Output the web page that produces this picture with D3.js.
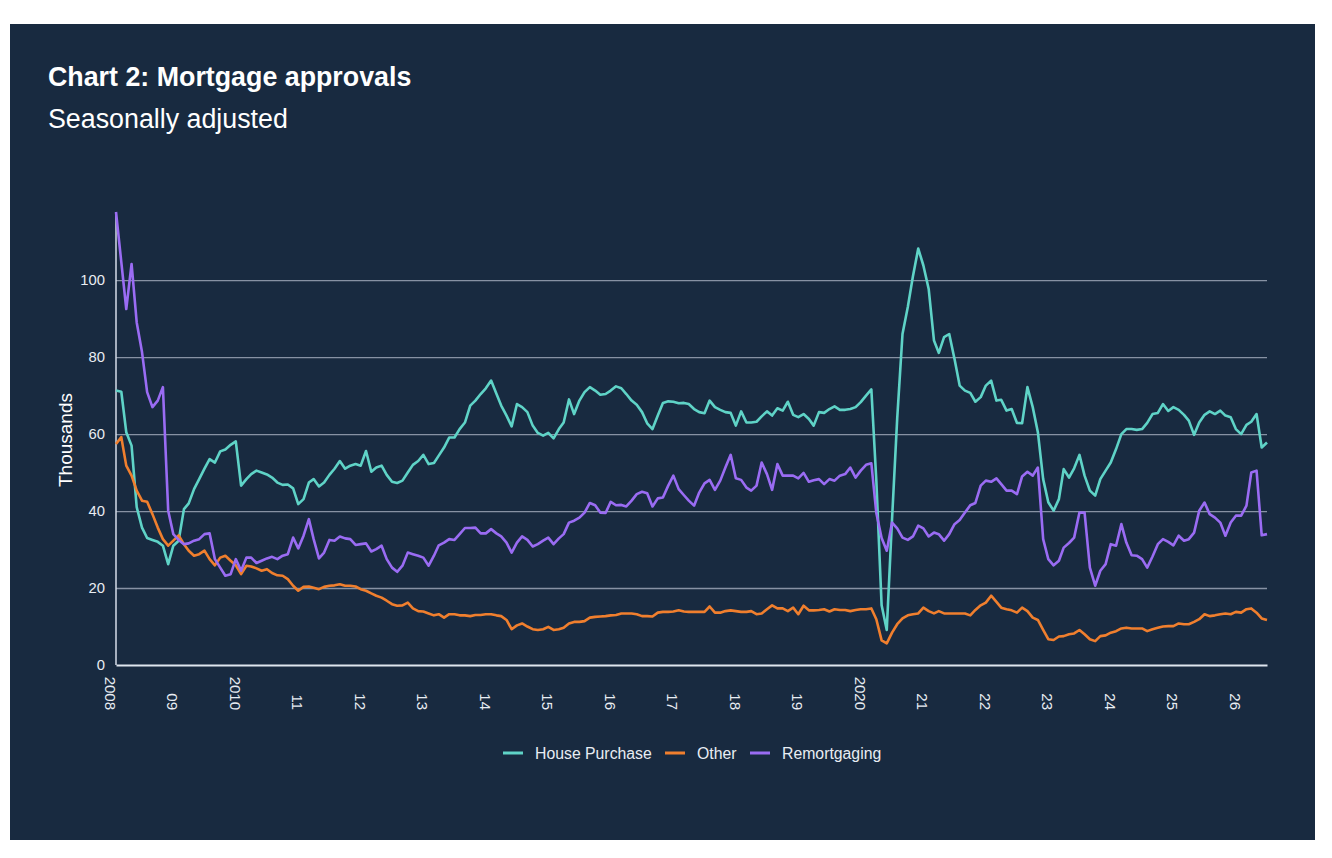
<!DOCTYPE html>
<html>
<head>
<meta charset="utf-8">
<script src="https://cdn.jsdelivr.net/npm/d3@7"></script>
<style>
  body { margin: 0; background: #fff; }
  svg { display: block; font-family: "Liberation Sans", Arial, sans-serif; }
</style>
</head>
<body>
<div id="chart"></div>
<script>
// monthly, Jan 2008 .. Jun 2026 (thousands)
const housePurchase = [
  71.3, 71, 60.5, 57, 41, 35.7, 33, 32.5, 32, 31, 26.2, 31,
  32.3, 40.5, 42, 45.7, 48.3, 51, 53.5, 52.6, 55.5, 56, 57.2, 58.1,
  46.6, 48.3, 49.6, 50.5, 50, 49.5, 48.7, 47.4, 46.8, 46.9, 45.9, 41.8,
  43.1, 47.4, 48.3, 46.4, 47.4, 49.4, 51, 53, 51, 51.8, 52.2, 51.8,
  55.6, 50.2, 51.3, 51.8, 49.4, 47.6, 47.3, 47.9, 50, 52, 53, 54.6,
  52.2, 52.5, 54.4, 56.5, 59.1, 59.1, 61.3, 63, 67.4, 68.7, 70.4, 71.9,
  73.9, 70.5, 67.4, 64.8, 62, 67.8, 67, 65.7, 62.2, 60.3, 59.6, 60.3,
  58.9, 61.3, 63, 69, 65.2, 68.7, 70.9, 72.2, 71.3, 70.2, 70.4, 71.3,
  72.4, 71.9, 70.4, 68.7, 67.6, 65.7, 62.8, 61.3, 64.8, 68.1, 68.5, 68.4,
  68, 68.1, 67.8, 66.5, 65.7, 65.4, 68.7, 67, 66.3, 65.7, 65.5, 62.2,
  65.9, 63, 63, 63.2, 64.6, 65.9, 64.8, 66.7, 66.1, 68.4, 65, 64.4,
  65.2, 63.9, 62.2, 65.7, 65.5, 66.5, 67.2, 66.3, 66.3, 66.5, 67, 68.3,
  70, 71.6, 48, 15.5, 9.1, 38, 64, 86, 93, 101, 108.2, 103.8,
  97.7, 84.3, 81.1, 85.2, 86, 79.5, 72.6, 71.3, 70.7, 68.4, 69.6, 72.6,
  73.9, 68.7, 68.9, 66.1, 66.5, 62.9, 62.8, 72.2, 67, 60.5, 48.3, 42.3,
  40.1, 43.1, 50.9, 48.7, 51.1, 54.6, 49.2, 45.3, 44, 48.3, 50.5, 52.6,
  56.1, 60, 61.3, 61.3, 61.1, 61.3, 62.9, 65.2, 65.5, 67.8, 66, 67,
  66.3, 65, 63.5, 59.8, 63, 65, 65.9, 65.2, 66.1, 64.8, 64.4, 61.3,
  60, 62.4, 63.2, 65.2, 56.5, 57.8
];
const other = [
  57.4, 59.2, 51.8, 49.2, 45.3, 42.7, 42.4, 39.2, 35.7, 32.7, 31, 32.3,
  33.7, 31.4, 29.7, 28.4, 28.8, 29.7, 27.5, 25.9, 27.9, 28.4, 27.1, 25.9,
  23.6, 25.8, 25.6, 25.1, 24.5, 24.9, 23.9, 23.3, 23.2, 22.3, 20.6, 19.3,
  20.3, 20.4, 20.1, 19.7, 20.3, 20.6, 20.7, 21, 20.6, 20.6, 20.4, 19.7,
  19.3, 18.6, 18, 17.5, 16.7, 15.8, 15.4, 15.5, 16.2, 14.7, 14, 13.9,
  13.4, 12.9, 13.2, 12.3, 13.2, 13.2, 12.9, 12.9, 12.7, 13, 13, 13.2,
  13.2, 12.9, 12.7, 11.7, 9.3, 10.3, 10.8, 10, 9.3, 9.1, 9.3, 9.9,
  9.1, 9.3, 9.7, 10.8, 11.2, 11.2, 11.4, 12.3, 12.5, 12.6, 12.7, 12.9,
  13, 13.4, 13.4, 13.4, 13.2, 12.7, 12.7, 12.6, 13.6, 13.8, 13.8, 13.9,
  14.2, 13.9, 13.8, 13.8, 13.8, 13.8, 15.2, 13.6, 13.6, 14, 14.2, 14,
  13.8, 13.8, 14, 13.2, 13.4, 14.5, 15.5, 14.7, 14.7, 14, 14.9, 13.2,
  15.4, 14.2, 14.2, 14.3, 14.5, 13.9, 14.5, 14.3, 14.3, 14, 14.3, 14.5,
  14.5, 14.7, 11.9, 6.4, 5.6, 8.4, 10.6, 12.1, 12.9, 13.2, 13.4, 14.9,
  14, 13.4, 14, 13.4, 13.4, 13.4, 13.4, 13.4, 12.9, 14.3, 15.5, 16.2,
  18, 16.4, 14.9, 14.5, 14.2, 13.6, 14.9, 14, 12.3, 11.7, 9.1, 6.7,
  6.5, 7.4, 7.5, 8, 8.2, 9.1, 8, 6.7, 6.2, 7.5, 7.7, 8.4,
  8.8, 9.5, 9.7, 9.5, 9.5, 9.5, 8.8, 9.3, 9.7, 10, 10.1, 10.1,
  10.8, 10.6, 10.6, 11.2, 11.9, 13.2, 12.7, 12.9, 13.2, 13.4, 13.2, 13.8,
  13.6, 14.5, 14.7, 13.6, 12.1, 11.7
];
const remortgaging = [
  117.7, 104.7, 92.5, 104.2, 89, 81.3, 70.9, 67, 68.7, 72.2, 40.1, 34,
  32.5, 31.4, 31.6, 32.3, 32.7, 34, 34.2, 27.5, 25.3, 23.2, 23.6, 27.5,
  24.5, 27.9, 27.9, 26.5, 27.1, 27.7, 28.1, 27.5, 28.4, 28.8, 33.1, 30.3,
  33.6, 37.9, 32.7, 27.7, 29.2, 32.5, 32.3, 33.4, 32.9, 32.7, 31.2, 31.4,
  31.6, 29.5, 30.1, 31, 27.5, 25.3, 24.2, 25.8, 29.2, 28.8, 28.4, 27.9,
  25.8, 28.4, 31.1, 31.8, 32.7, 32.5, 34, 35.6, 35.6, 35.7, 34.2, 34.2,
  35.3, 34.2, 33.4, 31.8, 29.2, 31.8, 33.4, 32.5, 30.8, 31.4, 32.3, 33.1,
  31.4, 32.9, 34, 37, 37.5, 38.3, 39.6, 42.1, 41.5, 39.6, 39.5, 42.4,
  41.5, 41.6, 41.2, 42.7, 44.4, 45, 44.6, 41.2, 43.3, 43.5, 46.6, 49.2,
  45.7, 44.1, 42.7, 41.4, 44.8, 47.2, 48.1, 45.5, 47.9, 51.3, 54.6, 48.5,
  48.1, 46.1, 45.3, 46.6, 52.6, 49.6, 45.5, 52.2, 49.2, 49.2, 49.2, 48.5,
  49.9, 47.6, 48, 48.3, 47, 48.3, 47.9, 49.2, 49.6, 51.3, 48.7, 50.5,
  52, 52.4, 39.5, 33, 29.7, 37, 35.5, 33.1, 32.5, 33.4, 36.2, 35.5,
  33.4, 34.4, 34, 32.3, 34, 36.6, 37.7, 39.6, 41.5, 42.1, 46.6, 47.9,
  47.6, 48.5, 47, 45.3, 45.3, 44.4, 49, 50.2, 49.2, 51.3, 32.7, 27.5,
  25.9, 27.1, 30.5, 31.7, 33.1, 39.6, 39.6, 25.3, 20.6, 24.5, 26.2, 31.4,
  31, 36.6, 31.8, 28.5, 28.4, 27.5, 25.3, 28.2, 31.4, 32.7, 32, 31.1,
  33.6, 32.3, 32.7, 34.4, 40.1, 42.2, 39.2, 38.3, 37, 33.6, 37, 38.8,
  38.8, 41.4, 50, 50.5, 33.7, 34
];
const months = d3.timeMonth.range(new Date(2008, 0, 1), new Date(2026, 6, 1));
const yearLabels = ["2008", "09", "2010", "11", "12", "13", "14", "15", "16", "17",
  "18", "19", "2020", "21", "22", "23", "24", "25", "26"];
const yTicks = [0, 20, 40, 60, 80, 100];

const series = [
  { name: "House Purchase", values: housePurchase, color: "#5fd3c7" },
  { name: "Other", values: other, color: "#f07f2e" },
  { name: "Remortgaging", values: remortgaging, color: "#9a6cf3" }
];

const width = 1332, height = 858;
const bg = "#182a40";

const svg = d3.select("#chart").append("svg")
  .attr("width", width)
  .attr("height", height);

svg.append("rect").attr("x", 10).attr("y", 24).attr("width", 1305).attr("height", 816).attr("fill", bg);

svg.append("text").attr("x", 48).attr("y", 86)
  .attr("fill", "#fff").attr("font-size", 26.8).attr("font-weight", "bold")
  .text("Chart 2: Mortgage approvals");
svg.append("text").attr("x", 48).attr("y", 128)
  .attr("fill", "#fff").attr("font-size", 26.8)
  .text("Seasonally adjusted");

const x = d3.scaleTime()
  .domain(d3.extent(months))
  .range([116, 1267]);

const y = d3.scaleLinear()
  .domain([0, d3.max(series, s => d3.max(s.values))])
  .range([665, 212]);

// gridlines + y labels
const yAxis = svg.append("g")
  .attr("transform", "translate(116,0)")
  .call(d3.axisLeft(y).tickValues(yTicks).tickSize(-(1267 - 116)).tickPadding(11));
yAxis.select(".domain").remove();
yAxis.selectAll(".tick line").attr("stroke", "#8792a4").attr("stroke-width", 1.3);
yAxis.selectAll(".tick text").attr("fill", "#e8edf3").attr("font-size", 14.8)
  .attr("font-family", "Liberation Sans, Arial, sans-serif");
yAxis.selectAll(".tick").filter(d => d === 0).select("line").remove();

svg.append("line")
  .attr("x1", 116).attr("x2", 116).attr("y1", y.range()[1]).attr("y2", 665)
  .attr("stroke", "#d5dde8").attr("stroke-width", 1.5);

svg.append("text")
  .attr("transform", "translate(71.5,440) rotate(-90)")
  .attr("text-anchor", "middle")
  .attr("fill", "#fff").attr("font-size", 19)
  .text("Thousands");

// x axis
const xAxis = svg.append("g")
  .attr("transform", "translate(0,665)")
  .call(d3.axisBottom(x)
    .tickValues(d3.timeYear.range(new Date(2008, 0, 1), new Date(2027, 0, 1)))
    .tickSize(0)
    .tickFormat((d, i) => yearLabels[i]));
xAxis.select(".domain").attr("stroke", "#dfe6ef").attr("stroke-width", 2);
xAxis.selectAll(".tick text")
  .attr("fill", "#e8edf3").attr("font-size", 15)
  .attr("font-family", "Liberation Sans, Arial, sans-serif")
  .attr("text-anchor", "end")
  .attr("y", 0).attr("dy", "0.8em")
  .attr("transform", "translate(0,45) rotate(90)");

// lines
const line = d3.line()
  .x((d, i) => x(months[i]))
  .y(d => y(d));

svg.append("g")
  .selectAll("path")
  .data(series)
  .join("path")
  .attr("d", s => line(s.values))
  .attr("fill", "none")
  .attr("stroke", s => s.color)
  .attr("stroke-width", 2.6)
  .attr("stroke-linejoin", "round");

// legend
const legendX = [503, 665, 750];
const legend = svg.append("g").attr("transform", "translate(0,753)");
const item = legend.selectAll("g")
  .data(series)
  .join("g")
  .attr("transform", (d, i) => `translate(${legendX[i]},0)`);
item.append("line")
  .attr("x1", 0).attr("x2", 20)
  .attr("stroke", d => d.color).attr("stroke-width", 3);
item.append("text")
  .attr("x", 32).attr("dy", "0.35em")
  .attr("fill", "#e8edf3").attr("font-size", 15.8)
  .text(d => d.name);
</script>
</body>
</html>
